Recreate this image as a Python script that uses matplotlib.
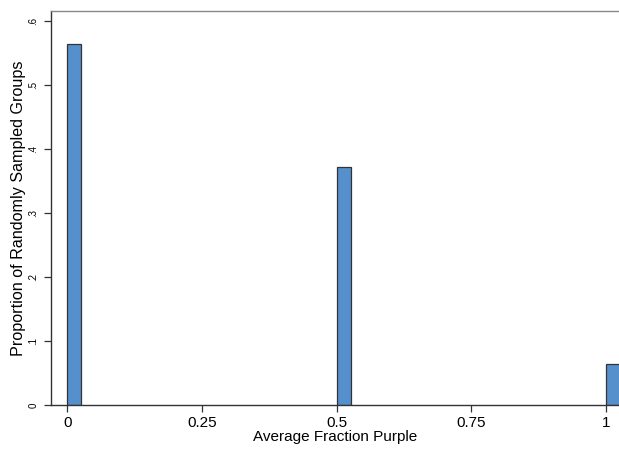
import matplotlib
matplotlib.use("Agg")
import matplotlib.pyplot as plt

bin_centers = [0.0, 0.5, 1.0]
proportions = [0.564, 0.372, 0.064]
bin_width = 0.026
x_ticks = [0, 0.25, 0.5, 0.75, 1]
x_tick_labels = ["0", "0.25", "0.5", "0.75", "1"]
y_ticks = [0, 0.1, 0.2, 0.3, 0.4, 0.5, 0.6]
y_tick_labels = ["0", ".1", ".2", ".3", ".4", ".5", ".6"]

plt.rcParams['font.family'] = ['Liberation Sans', 'DejaVu Sans']
fig = plt.figure(figsize=(6.19, 4.49), dpi=100)
ax = fig.add_axes([51/619, 44/449, (619-51)/619 + 0.002, (405-10.7)/449])

ax.bar(bin_centers, proportions, width=bin_width, align='edge',
       color='#5590cc', edgecolor='#333333', linewidth=0.9)

ax.set_xlim(-0.030, 1.026)
ax.set_ylim(0, 0.616)
ax.set_xticks(x_ticks)
ax.set_xticklabels(x_tick_labels, fontsize=11)
ax.set_yticks(y_ticks)
ax.set_yticklabels(y_tick_labels, fontsize=7, rotation=90, va='center')
ax.tick_params(axis='both', direction='out', length=5, width=0.9, color='#333333')
ax.tick_params(axis='x', pad=3)
ax.tick_params(axis='y', pad=4)
ax.set_xlabel("Average Fraction Purple", fontsize=11, labelpad=0)
ax.set_ylabel("Proportion of Randomly Sampled Groups", fontsize=11.6, labelpad=2)

for s in ['left', 'bottom']:
    ax.spines[s].set_color('#333333')
    ax.spines[s].set_linewidth(1.0)
ax.spines['top'].set_color('#888888')
ax.spines['top'].set_linewidth(1.0)
ax.spines['right'].set_visible(False)

fig.savefig("out.png", dpi=100)
